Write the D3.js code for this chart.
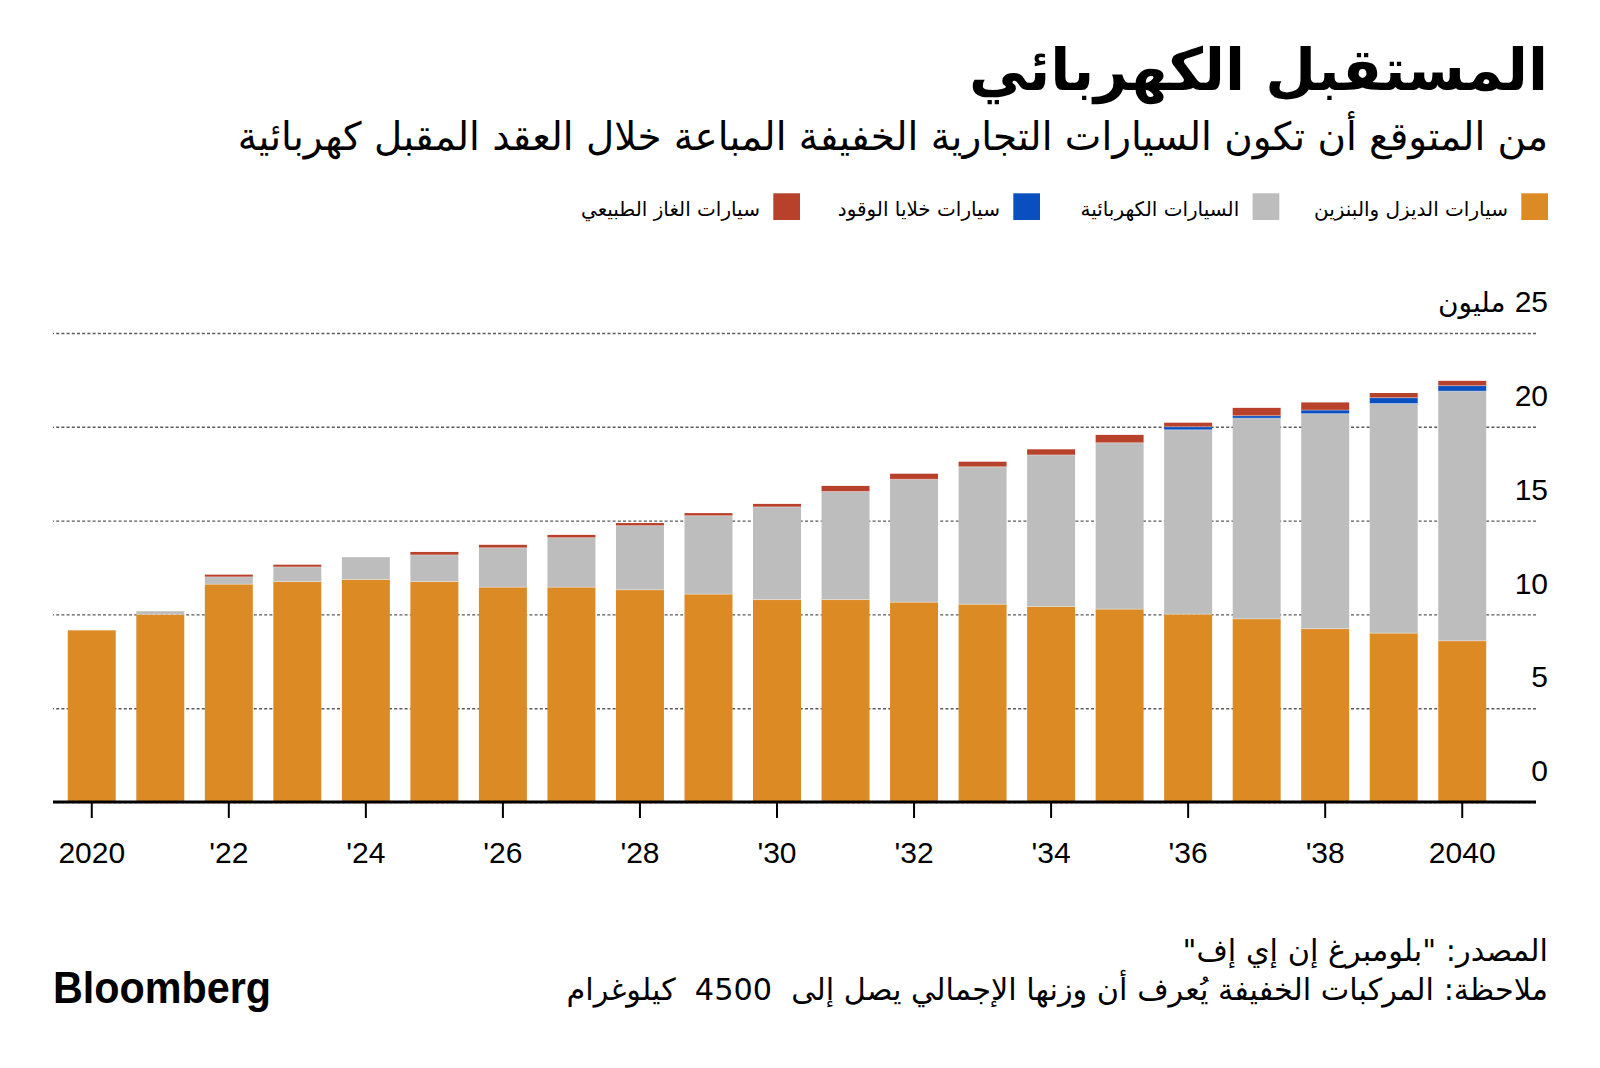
<!DOCTYPE html>
<html>
<head>
<meta charset="utf-8">
<script src="https://cdn.jsdelivr.net/npm/d3@7"></script>
<style>
  html, body { margin: 0; padding: 0; background: #ffffff; }
  svg { display: block; }
</style>
</head>
<body>
<svg id="chart" width="1600" height="1068"></svg>
<script>
// ---------------- DATA ----------------
const years = [2020, 2021, 2022, 2023, 2024, 2025, 2026, 2027, 2028, 2029, 2030,
               2031, 2032, 2033, 2034, 2035, 2036, 2037, 2038, 2039, 2040];
// million vehicles
const petrolDiesel = [9.15, 10.0, 11.61, 11.75, 11.86, 11.75, 11.45, 11.45, 11.31, 11.08, 10.79,
                      10.79, 10.65, 10.54, 10.42, 10.28, 10.01, 9.76, 9.24, 9.0, 8.59];
const electric     = [0, 0.17, 0.39, 0.78, 1.19, 1.42, 2.1, 2.64, 3.42, 4.18, 4.94,
                      5.76, 6.55, 7.33, 8.08, 8.87, 9.83, 10.7, 11.46, 12.24, 13.31];
const fuelCell     = [0, 0, 0, 0, 0, 0, 0, 0, 0, 0, 0,
                      0, 0, 0, 0, 0, 0.16, 0.13, 0.19, 0.31, 0.29];
const naturalGas   = [0, 0, 0.12, 0.12, 0, 0.16, 0.16, 0.15, 0.14, 0.14, 0.16,
                      0.3, 0.3, 0.27, 0.3, 0.42, 0.22, 0.42, 0.41, 0.25, 0.26];

const seriesKeys   = ["petrolDiesel", "electric", "fuelCell", "naturalGas"];
const seriesLabels = ["سيارات الديزل والبنزين", "السيارات الكهربائية", "سيارات خلايا الوقود", "سيارات الغاز الطبيعي"];
const seriesColors = ["#db8a24", "#bdbdbd", "#0a4fbf", "#b8412b"];

const yTicks = [0, 5, 10, 15, 20, 25];
const yUnitWord = "مليون";
const xTickYears = [2020, 2022, 2024, 2026, 2028, 2030, 2032, 2034, 2036, 2038, 2040];

const titleText = "المستقبل الكهربائي";
const subtitleText = "من المتوقع أن تكون السيارات التجارية الخفيفة المباعة خلال العقد المقبل كهربائية";
const sourceText = "المصدر: \"بلومبرغ إن إي إف\"";
const noteText = "ملاحظة: المركبات الخفيفة يُعرف أن وزنها الإجمالي يصل إلى  4500  كيلوغرام";

// ---------------- SETUP ----------------
const RLM = "\u200F";
const arabicFont = "'DejaVu Sans', sans-serif";
const latinFont = "'Liberation Sans', Arial, sans-serif";
const svg = d3.select("#chart");

function fitWidth(sel, target) {
  const n = sel.node();
  const fs = parseFloat(sel.style("font-size"));
  const w = n.getComputedTextLength();
  const nf = fs * target / w;
  sel.style("font-size", nf + "px");
  return nf;
}

// ---------------- TITLES ----------------
const title = svg.append("text")
  .attr("x", 1548).attr("y", 90)
  .attr("text-anchor", "end")
  .style("font-family", arabicFont).style("font-weight", "bold")
  .style("font-size", "56px").style("fill", "#000")
  .text(RLM + titleText + RLM);
fitWidth(title, 579);

const subtitle = svg.append("text")
  .attr("x", 1548).attr("y", 150)
  .attr("text-anchor", "end")
  .style("font-family", arabicFont)
  .style("font-size", "30px").style("fill", "#000")
  .text(RLM + subtitleText + RLM);
fitWidth(subtitle, 1311);

// ---------------- LEGEND ----------------
const legendRight = [1548, 1279.3, 1040, 800];
const sw = 26.7;
let legendFs = null;
seriesKeys.forEach((k, i) => {
  const g = svg.append("g");
  g.append("rect")
    .attr("x", legendRight[i] - sw).attr("y", 193.3)
    .attr("width", sw).attr("height", sw)
    .attr("fill", seriesColors[i]);
  const t = g.append("text")
    .attr("x", legendRight[i] - sw - 13.4).attr("y", 215.5)
    .attr("text-anchor", "end")
    .style("font-family", arabicFont)
    .style("font-size", (legendFs || 20) + "px").style("fill", "#000")
    .text(RLM + seriesLabels[i] + RLM);
  if (i === 0) legendFs = fitWidth(t, 194);
});

// ---------------- SCALES ----------------
const x = d3.scaleBand()
  .domain(years)
  .range([57.5, 1496.5])
  .paddingInner(0.3)
  .paddingOuter(0.15);

const y = d3.scaleLinear()
  .domain([0, 25])
  .range([802, 333]);

const gridLeft = 53, gridRight = 1536;

// ---------------- GRID + Y AXIS ----------------
const yAxis = d3.axisRight(y)
  .tickValues(yTicks)
  .tickSize(-(gridRight - gridLeft))
  .tickFormat(d => String(d));

const gy = svg.append("g")
  .attr("transform", `translate(${gridRight},0)`)
  .call(yAxis);
gy.select(".domain").remove();
gy.selectAll(".tick line")
  .attr("stroke", "#5a5a5a")
  .attr("stroke-width", 1.4)
  .attr("stroke-dasharray", "3,2.2");
gy.selectAll(".tick text")
  .attr("x", 12)
  .attr("y", -21.4)
  .attr("dy", null)
  .attr("text-anchor", "end")
  .attr("fill", "#000")
  .style("font-family", latinFont)
  .style("font-size", "30px");
// top tick: the number stays at the right edge, the unit word sits to its left (RTL reading "25 مليون")
gy.selectAll(".tick").filter(d => d === 25).each(function () {
  const tick = d3.select(this);
  const numW = tick.select("text").node().getComputedTextLength();
  tick.append("text")
    .attr("x", 12 - numW - 9).attr("y", -21.4)
    .attr("text-anchor", "end")
    .attr("fill", "#000")
    .style("font-family", arabicFont)
    .style("font-size", "28px")
    .text(RLM + yUnitWord + RLM);
});

// ---------------- BARS ----------------
const table = years.map((yr, i) => ({
  year: yr,
  petrolDiesel: petrolDiesel[i],
  electric: electric[i],
  fuelCell: fuelCell[i],
  naturalGas: naturalGas[i]
}));
const stacked = d3.stack().keys(seriesKeys)(table);

const barsG = svg.append("g");
barsG.selectAll("g.series")
  .data(stacked)
  .join("g")
  .attr("class", "series")
  .attr("fill", (d, i) => seriesColors[i])
  .selectAll("rect")
  .data(d => d.filter(p => p[1] - p[0] > 0))
  .join("rect")
  .attr("x", d => x(d.data.year))
  .attr("width", x.bandwidth())
  .attr("y", d => y(d[1]))
  .attr("height", d => y(d[0]) - y(d[1]));

// thin light separators between segments
barsG.selectAll("g.series").filter((d, i) => i > 0)
  .selectAll("line.sep")
  .data(d => d.filter(p => p[1] - p[0] > 0))
  .join("line")
  .attr("class", "sep")
  .attr("x1", d => x(d.data.year))
  .attr("x2", d => x(d.data.year) + x.bandwidth())
  .attr("y1", d => y(d[0]))
  .attr("y2", d => y(d[0]))
  .attr("stroke", "#ffffff")
  .attr("stroke-opacity", 0.45)
  .attr("stroke-width", 0.8);

// ---------------- X AXIS ----------------
const xAxis = d3.axisBottom(x)
  .tickValues(xTickYears)
  .tickSize(16)
  .tickPadding(24)
  .tickFormat(d => (d === 2020 || d === 2040) ? String(d) : "'" + String(d).slice(2));

const gx = svg.append("g")
  .attr("transform", `translate(0,${y(0)})`)
  .call(xAxis);
gx.select(".domain").remove();
gx.selectAll(".tick line").attr("stroke", "#000").attr("stroke-width", 2);
gx.selectAll(".tick text")
  .attr("fill", "#000")
  .style("font-family", latinFont)
  .style("font-size", "30px");

// baseline
svg.append("line")
  .attr("x1", gridLeft).attr("x2", gridRight)
  .attr("y1", y(0)).attr("y2", y(0))
  .attr("stroke", "#000").attr("stroke-width", 3);

// ---------------- FOOTER ----------------
const note = svg.append("text")
  .attr("x", 1548).attr("y", 1000)
  .attr("text-anchor", "end")
  .style("font-family", arabicFont)
  .style("white-space", "pre")
  .style("font-size", "26px").style("fill", "#000")
  .text(RLM + noteText + RLM);
const footFs = fitWidth(note, 982);

svg.append("text")
  .attr("x", 1548).attr("y", 961)
  .attr("text-anchor", "end")
  .style("font-family", arabicFont)
  .style("font-size", footFs + "px").style("fill", "#000")
  .text(RLM + sourceText + RLM);

svg.append("text")
  .attr("x", 53).attr("y", 1002.7)
  .style("font-family", latinFont)
  .style("font-weight", "bold")
  .style("font-size", "45px")
  .attr("textLength", 218)
  .attr("lengthAdjust", "spacingAndGlyphs")
  .style("fill", "#000")
  .text("Bloomberg");
</script>
</body>
</html>
